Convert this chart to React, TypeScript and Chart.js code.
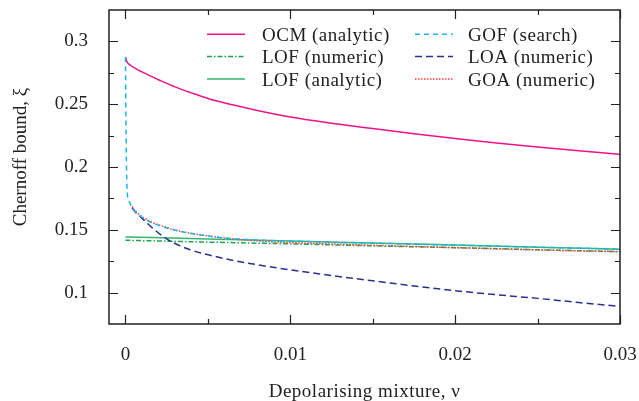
import React, { useEffect, useRef } from "react";
import { Chart, registerables } from "chart.js";

Chart.register(...registerables);

// ---- data ----
const ocmX = [0, 0.0001, 0.0003, 0.0006, 0.001, 0.0015, 0.002, 0.003, 0.004, 0.005, 0.0065, 0.008, 0.01, 0.0125, 0.015, 0.0175, 0.02, 0.0225, 0.025, 0.0275, 0.03];
const ocmY = [0.2873, 0.2835, 0.281, 0.2785, 0.2757, 0.2725, 0.2695, 0.2638, 0.259, 0.2546, 0.2495, 0.245, 0.2398, 0.2349, 0.2306, 0.2265, 0.2227, 0.2192, 0.216, 0.213, 0.21];

const lofX = [0, 0.005, 0.01, 0.015, 0.02, 0.025, 0.03];
const lofNumericY = [0.1417, 0.1402, 0.1388, 0.1372, 0.1358, 0.1341, 0.1325];
const lofAnalyticY = [0.1443, 0.1427, 0.141, 0.1394, 0.1378, 0.1362, 0.1345];

const gofX = [0, 0.00002, 0.00005, 0.0001, 0.0002, 0.0004, 0.0006, 0.001, 0.0015, 0.0025, 0.0035, 0.005, 0.0065, 0.008, 0.01, 0.015, 0.02, 0.025, 0.03];
const gofY = [0.2873, 0.25, 0.21, 0.181, 0.1735, 0.168, 0.1645, 0.16, 0.1562, 0.1515, 0.1482, 0.145, 0.143, 0.1418, 0.141, 0.1394, 0.1378, 0.1362, 0.1345];

const loaX = [0.0004, 0.0006, 0.0009, 0.0015, 0.0025, 0.0038, 0.0053, 0.0072, 0.01, 0.0126, 0.015, 0.0175, 0.02, 0.0225, 0.025, 0.0275, 0.03];
const loaY = [0.1675, 0.164, 0.1605, 0.153, 0.1428, 0.1347, 0.1292, 0.124, 0.1181, 0.1134, 0.1094, 0.1053, 0.1015, 0.0983, 0.0954, 0.0921, 0.089];

const goaX = [0.0004, 0.0006, 0.001, 0.0015, 0.0025, 0.0035, 0.005, 0.0065, 0.008, 0.01, 0.0125, 0.015, 0.0175, 0.02, 0.0225, 0.025, 0.0275, 0.03];
const goaY = [0.1685, 0.165, 0.1605, 0.1567, 0.1518, 0.1484, 0.1452, 0.1428, 0.1412, 0.1398, 0.1387, 0.1377, 0.1367, 0.1358, 0.1349, 0.134, 0.1333, 0.1327];

const xMajorTicks = [0, 0.01, 0.02, 0.03];
const xTickLabels = ["0", "0.01", "0.02", "0.03"];
const xMinorTicks = [0.005, 0.015, 0.025];
const yMajorTicks = [0.1, 0.15, 0.2, 0.25, 0.3];
const yTickLabels = ["0.1", "0.15", "0.2", "0.25", "0.3"];
const yMinorTicks = [0.125, 0.175, 0.225, 0.275];

const xTitle = "Depolarising mixture, \u03BD";
const yTitle = "Chernoff bound, \u03BE";

const FONT = "'Liberation Serif', 'Times New Roman', serif";

const zip = (xs: number[], ys: number[]) => xs.map((x, i) => ({ x, y: ys[i] }));

type Entry = { label: string; color: string; dash: number[] };

const framePlugin = {
  id: "frameAndDecor",
  afterDraw(chart: any) {
    const { ctx, chartArea } = chart;
    const { left, right, top, bottom } = chartArea;
    const xs = chart.scales.x;
    const ys = chart.scales.y;
    ctx.save();
    ctx.strokeStyle = "#222";
    ctx.lineWidth = 1.5;
    ctx.setLineDash([]);
    ctx.strokeRect(left, top, right - left, bottom - top);
    ctx.lineWidth = 1.2;
    const drawX = (v: number, len: number) => {
      const p = Math.round(xs.getPixelForValue(v)) + 0.5;
      ctx.beginPath();
      ctx.moveTo(p, bottom);
      ctx.lineTo(p, bottom - len);
      ctx.moveTo(p, top);
      ctx.lineTo(p, top + len);
      ctx.stroke();
    };
    const drawY = (v: number, len: number) => {
      const p = Math.round(ys.getPixelForValue(v)) + 0.5;
      ctx.beginPath();
      ctx.moveTo(left, p);
      ctx.lineTo(left + len, p);
      ctx.moveTo(right, p);
      ctx.lineTo(right - len, p);
      ctx.stroke();
    };
    xMajorTicks.forEach((v) => drawX(v, 9));
    xMinorTicks.forEach((v) => drawX(v, 5));
    yMajorTicks.forEach((v) => drawY(v, 9));
    yMinorTicks.forEach((v) => drawY(v, 5));

    // legend
    const entries: Entry[] = chart.data.datasets.map((d: any) => ({
      label: d.label,
      color: d.borderColor,
      dash: d.borderDash || [],
    }));
    const colX = [[207, 245, 262], [415, 453, 468]];
    const rowY = [34.3, 56.5, 79];
    ctx.font = `19px ${FONT}`;
    ctx.textBaseline = "alphabetic";
    ctx.textAlign = "left";
    try { ctx.letterSpacing = "0.5px"; } catch (e) {}
    entries.forEach((e, i) => {
      const c = Math.floor(i / 3);
      const r = i % 3;
      const [x0, x1, tx] = colX[c];
      const y = rowY[r];
      ctx.strokeStyle = e.color;
      ctx.lineWidth = 1.6;
      ctx.setLineDash(e.dash);
      ctx.beginPath();
      ctx.moveTo(x0, y);
      ctx.lineTo(x1, y);
      ctx.stroke();
      ctx.setLineDash([]);
      ctx.fillStyle = "#222";
      ctx.fillText(e.label, tx, y + 6.5);
    });

    // axis titles
    ctx.fillStyle = "#222";
    ctx.textAlign = "center";
    ctx.fillText(xTitle, (left + right) / 2, 397);
    try { ctx.letterSpacing = "0px"; } catch (e) {}
    ctx.save();
    ctx.translate(26, 157);
    ctx.rotate(-Math.PI / 2);
    ctx.fillText(yTitle, 0, 0);
    ctx.restore();
    ctx.restore();
  },
};

export default function App() {
  const ref = useRef<HTMLCanvasElement | null>(null);
  useEffect(() => {
    if (!ref.current) return;
    const common = { pointRadius: 0, borderWidth: 1.5, fill: false, cubicInterpolationMode: "monotone" as const };
    const chart = new Chart(ref.current, {
      type: "line",
      data: {
        datasets: [
          { label: "OCM (analytic)", data: zip(ocmX, ocmY), borderColor: "#ee1288", borderDash: [], order: 5, ...common },
          { label: "LOF (numeric)", data: zip(lofX, lofNumericY), borderColor: "#1ea54c", borderDash: [5, 2, 1.5, 2], order: 3, ...common },
          { label: "LOF (analytic)", data: zip(lofX, lofAnalyticY), borderColor: "#35b56e", borderDash: [], order: 4, ...common },
          { label: "GOF (search)", data: zip(gofX, gofY), borderColor: "#1ab4ee", borderDash: [5, 4], order: 0, ...common },
          { label: "LOA (numeric)", data: zip(loaX, loaY), borderColor: "#2c2f8e", borderDash: [7, 4], order: 2, ...common },
          { label: "GOA (numeric)", data: zip(goaX, goaY), borderColor: "#ff3a3a", borderDash: [1.5, 1.5], order: 1, ...common },
        ],
      },
      options: {
        animation: false,
        responsive: true,
        maintainAspectRatio: false,
        layout: { padding: { left: 0, right: 19, top: 10, bottom: 0 } },
        plugins: { legend: { display: false }, tooltip: { enabled: false } },
        scales: {
          x: {
            type: "linear",
            min: -0.001,
            max: 0.03,
            grid: { display: false, drawTicks: false },
            border: { display: false },
            afterBuildTicks: (s: any) => {
              s.ticks = xMajorTicks.map((v) => ({ value: v }));
            },
            afterFit: (s: any) => {
              s.height = 77;
              s.paddingLeft = 0;
              s.paddingRight = 0;
              s.paddingTop = 0;
              s.paddingBottom = 0;
            },
            ticks: {
              padding: 20,
              maxRotation: 0,
              autoSkip: false,
              color: "#222",
              font: { family: FONT, size: 19 },
              callback: (v: any) => {
                const i = xMajorTicks.indexOf(Number(v));
                return i >= 0 ? xTickLabels[i] : "";
              },
            },
          },
          y: {
            type: "linear",
            min: 0.075,
            max: 0.325,
            grid: { display: false, drawTicks: false },
            border: { display: false },
            afterBuildTicks: (s: any) => {
              s.ticks = yMajorTicks.map((v) => ({ value: v }));
            },
            afterFit: (s: any) => {
              s.width = 109;
              s.paddingLeft = 0;
              s.paddingRight = 0;
              s.paddingTop = 0;
              s.paddingBottom = 0;
            },
            ticks: {
              padding: 21,
              autoSkip: false,
              color: "#222",
              font: { family: FONT, size: 19 },
              callback: (v: any) => {
                const i = yMajorTicks.findIndex((t) => Math.abs(t - Number(v)) < 1e-9);
                return i >= 0 ? yTickLabels[i] : "";
              },
            },
          },
        },
      },
      plugins: [framePlugin],
    });
    return () => chart.destroy();
  }, []);
  return (
    <div style={{ position: "fixed", left: 0, top: 0, width: 639, height: 401, background: "#fff" }}>
      <canvas ref={ref} />
    </div>
  );
}
